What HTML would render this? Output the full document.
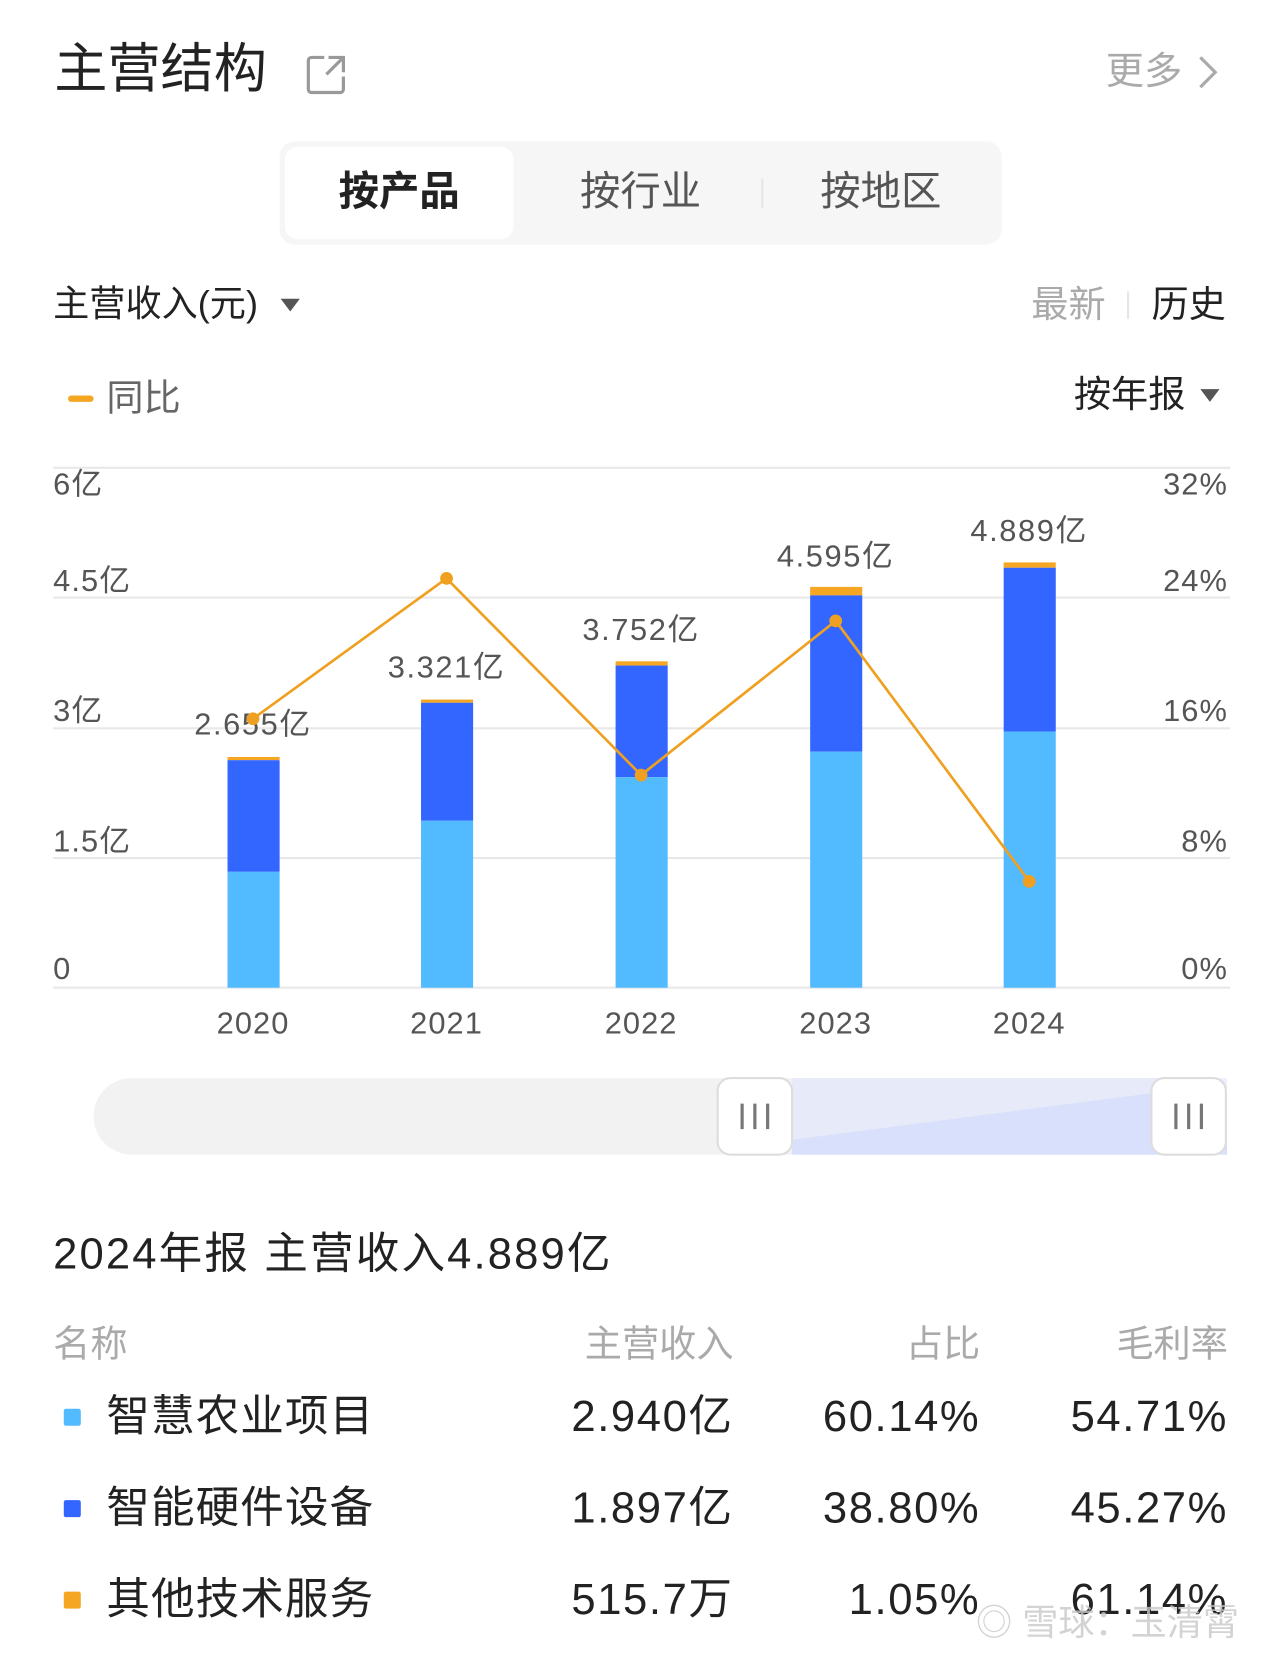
<!DOCTYPE html>
<html><head><meta charset="utf-8"><style>
html,body{margin:0;padding:0;background:#fff;}
body{width:1280px;height:1666px;overflow:hidden;position:relative;font-family:"Liberation Sans","Noto Sans CJK SC",sans-serif;}
#w{position:absolute;left:0;top:0;width:1213px;height:1579px;transform:scale(1.0632);transform-origin:0 0;}
.a{position:absolute;white-space:nowrap;line-height:1;}
.r{text-align:right;}
.n{letter-spacing:1.5px;}
</style></head><body><div id="w">
<div class="a" style="left:51px;top:40px;font-size:50px;color:#222;">主营结构</div>
<svg class="a" style="left:287px;top:50px" width="40" height="40" viewBox="0 0 40 40"><path d="M18 4H6a3 3 0 0 0-3 3v27a3 3 0 0 0 3 3h27a3 3 0 0 0 3-3V22" fill="none" stroke="#999" stroke-width="3"/><path d="M22 4h14v14M36 4L20 20" fill="none" stroke="#999" stroke-width="3"/></svg>
<div class="a" style="left:1040px;top:49px;font-size:36px;color:#aaa;">更多</div>
<svg class="a" style="left:1124px;top:51px" width="24" height="34"><path d="M5 3l14 14-14 14" fill="none" stroke="#aaa" stroke-width="3"/></svg>

<div class="a" style="left:263px;top:133px;width:679px;height:97px;background:#f6f6f6;border-radius:14px;"></div>
<div class="a" style="left:268px;top:138px;width:215px;height:87px;background:#fff;border-radius:12px;"></div>
<div class="a" style="left:268px;top:162px;width:215px;text-align:center;font-size:38px;font-weight:bold;color:#222;">按产品</div>
<div class="a" style="left:495px;top:162px;width:215px;text-align:center;font-size:38px;color:#555;">按行业</div>
<div class="a" style="left:716px;top:168px;width:2px;height:28px;background:#e6e6e6;"></div>
<div class="a" style="left:721px;top:162px;width:215px;text-align:center;font-size:38px;color:#555;">按地区</div>

<div class="a" style="left:50px;top:269px;font-size:34px;color:#222;">主营收入(元)</div>
<svg class="a" style="left:263px;top:280px" width="20" height="14"><path d="M1 1h18L10 13z" fill="#555"/></svg>
<div class="a" style="left:970px;top:269px;font-size:35px;color:#aaa;">最新</div>
<div class="a" style="left:1060px;top:274px;width:2px;height:26px;background:#e6e6e6;"></div>
<div class="a" style="left:1083px;top:269px;font-size:35px;color:#222;">历史</div>

<div class="a" style="left:64px;top:372px;width:24px;height:6px;border-radius:3px;background:#f5a623;"></div>
<div class="a" style="left:100px;top:357px;font-size:35px;color:#666;">同比</div>
<div class="a" style="left:1010px;top:354px;font-size:35px;color:#222;">按年报</div>
<svg class="a" style="left:1128px;top:365px" width="20" height="14"><path d="M1 1h18L10 13z" fill="#555"/></svg>

<svg class="a" style="left:0;top:420px" width="1213" height="580" viewBox="0 420 1213 580" font-family="Liberation Sans,Noto Sans CJK SC,sans-serif">
<g stroke="#e8e8e8" stroke-width="2">
<line x1="50" x2="1157" y1="440" y2="440"/><line x1="50" x2="1157" y1="562" y2="562"/><line x1="50" x2="1157" y1="685" y2="685"/><line x1="50" x2="1157" y1="807" y2="807"/><line x1="50" x2="1157" y1="929" y2="929"/></g>
<g font-size="29" fill="#555" letter-spacing="1">
<text x="50" y="465">6亿</text><text x="50" y="556">4.5亿</text><text x="50" y="678">3亿</text><text x="50" y="801">1.5亿</text><text x="50" y="921">0</text>
<g text-anchor="end"><text x="1155" y="465">32%</text><text x="1155" y="556">24%</text><text x="1155" y="678">16%</text><text x="1155" y="801">8%</text><text x="1155" y="921">0%</text></g>
<g text-anchor="middle"><text x="238" y="972">2020</text><text x="420" y="972">2021</text><text x="603" y="972">2022</text><text x="786" y="972">2023</text><text x="968" y="972">2024</text></g>
</g>
<g>
<rect x="214" y="712" width="49" height="3" fill="#f5a623"/><rect x="214" y="715" width="49" height="105" fill="#3366ff"/><rect x="214" y="820" width="49" height="109" fill="#52baff"/>
<rect x="396" y="658" width="49" height="3" fill="#f5a623"/><rect x="396" y="661" width="49" height="111" fill="#3366ff"/><rect x="396" y="772" width="49" height="157" fill="#52baff"/>
<rect x="579" y="622" width="49" height="4" fill="#f5a623"/><rect x="579" y="626" width="49" height="105" fill="#3366ff"/><rect x="579" y="731" width="49" height="198" fill="#52baff"/>
<rect x="762" y="552" width="49" height="8" fill="#f5a623"/><rect x="762" y="560" width="49" height="147" fill="#3366ff"/><rect x="762" y="707" width="49" height="222" fill="#52baff"/>
<rect x="944" y="529" width="49" height="5" fill="#f5a623"/><rect x="944" y="534" width="49" height="154" fill="#3366ff"/><rect x="944" y="688" width="49" height="241" fill="#52baff"/>
</g>
<g font-size="29" fill="#555" text-anchor="middle" letter-spacing="1.5">
<text x="238" y="691">2.655亿</text><text x="420" y="637">3.321亿</text><text x="603" y="602">3.752亿</text><text x="786" y="533">4.595亿</text><text x="968" y="509">4.889亿</text></g>
<polyline points="238,676 420,544 603,729 786,584 968,829" fill="none" stroke="#f0a020" stroke-width="2.5"/>
<g fill="#f0a020"><circle cx="238" cy="676" r="6"/><circle cx="420" cy="544" r="6"/><circle cx="603" cy="729" r="6"/><circle cx="786" cy="584" r="6"/><circle cx="968" cy="829" r="6"/></g>
</svg>

<svg class="a" style="left:85px;top:1012px" width="1072" height="78">
<rect x="3" y="2" width="1066" height="72" rx="36" fill="#f2f2f2"/>
<path d="M660 60 L1000 16 L1069 16 L1069 74 L660 74z" fill="#d0d9fa"/>
<rect x="660" y="2" width="409" height="72" fill="#dfe5fc" opacity="0.6"/>
<rect x="590" y="2" width="70" height="72" rx="12" fill="#fff" stroke="#ddd" stroke-width="2"/>
<rect x="998" y="2" width="70" height="72" rx="12" fill="#fff" stroke="#ddd" stroke-width="2"/>
<g stroke="#777" stroke-width="3"><line x1="613" y1="26" x2="613" y2="50"/><line x1="625" y1="26" x2="625" y2="50"/><line x1="637" y1="26" x2="637" y2="50"/><line x1="1021" y1="26" x2="1021" y2="50"/><line x1="1033" y1="26" x2="1033" y2="50"/><line x1="1045" y1="26" x2="1045" y2="50"/></g>
</svg>

<div class="a n" style="left:50px;top:1159px;font-size:41px;color:#222;letter-spacing:2px;">2024年报 主营收入4.889亿</div>

<div class="a" style="left:50px;top:1247px;font-size:35px;color:#aaa;">名称</div>
<div class="a r" style="left:490px;width:200px;top:1247px;font-size:35px;color:#aaa;">主营收入</div>
<div class="a r" style="left:722px;width:200px;top:1247px;font-size:35px;color:#aaa;">占比</div>
<div class="a r" style="left:955px;width:200px;top:1247px;font-size:35px;color:#aaa;">毛利率</div>

<div class="a" style="left:60px;top:1325px;width:16px;height:16px;background:#52baff;border-radius:2px;"></div>
<div class="a" style="left:100px;top:1312px;font-size:41px;color:#222;letter-spacing:1px;">智慧农业项目</div>
<div class="a r n" style="left:440px;width:250px;top:1312px;font-size:41px;color:#222;">2.940亿</div>
<div class="a r n" style="left:672px;width:250px;top:1312px;font-size:41px;color:#222;">60.14%</div>
<div class="a r n" style="left:905px;width:250px;top:1312px;font-size:41px;color:#222;">54.71%</div>

<div class="a" style="left:60px;top:1411px;width:16px;height:16px;background:#3366ff;border-radius:2px;"></div>
<div class="a" style="left:100px;top:1398px;font-size:41px;color:#222;letter-spacing:1px;">智能硬件设备</div>
<div class="a r n" style="left:440px;width:250px;top:1398px;font-size:41px;color:#222;">1.897亿</div>
<div class="a r n" style="left:672px;width:250px;top:1398px;font-size:41px;color:#222;">38.80%</div>
<div class="a r n" style="left:905px;width:250px;top:1398px;font-size:41px;color:#222;">45.27%</div>

<div class="a" style="left:60px;top:1497px;width:16px;height:16px;background:#f5a623;border-radius:2px;"></div>
<div class="a" style="left:100px;top:1484px;font-size:41px;color:#222;letter-spacing:1px;">其他技术服务</div>
<div class="a r n" style="left:440px;width:250px;top:1484px;font-size:41px;color:#222;">515.7万</div>
<div class="a r n" style="left:672px;width:250px;top:1484px;font-size:41px;color:#222;">1.05%</div>
<div class="a r n" style="left:905px;width:250px;top:1484px;font-size:41px;color:#222;">61.14%</div>
<div class="a" style="left:918px;top:1510px;font-size:34px;color:rgba(200,200,200,0.8);">◎ 雪球：玉清霄</div>
</div></body></html>
